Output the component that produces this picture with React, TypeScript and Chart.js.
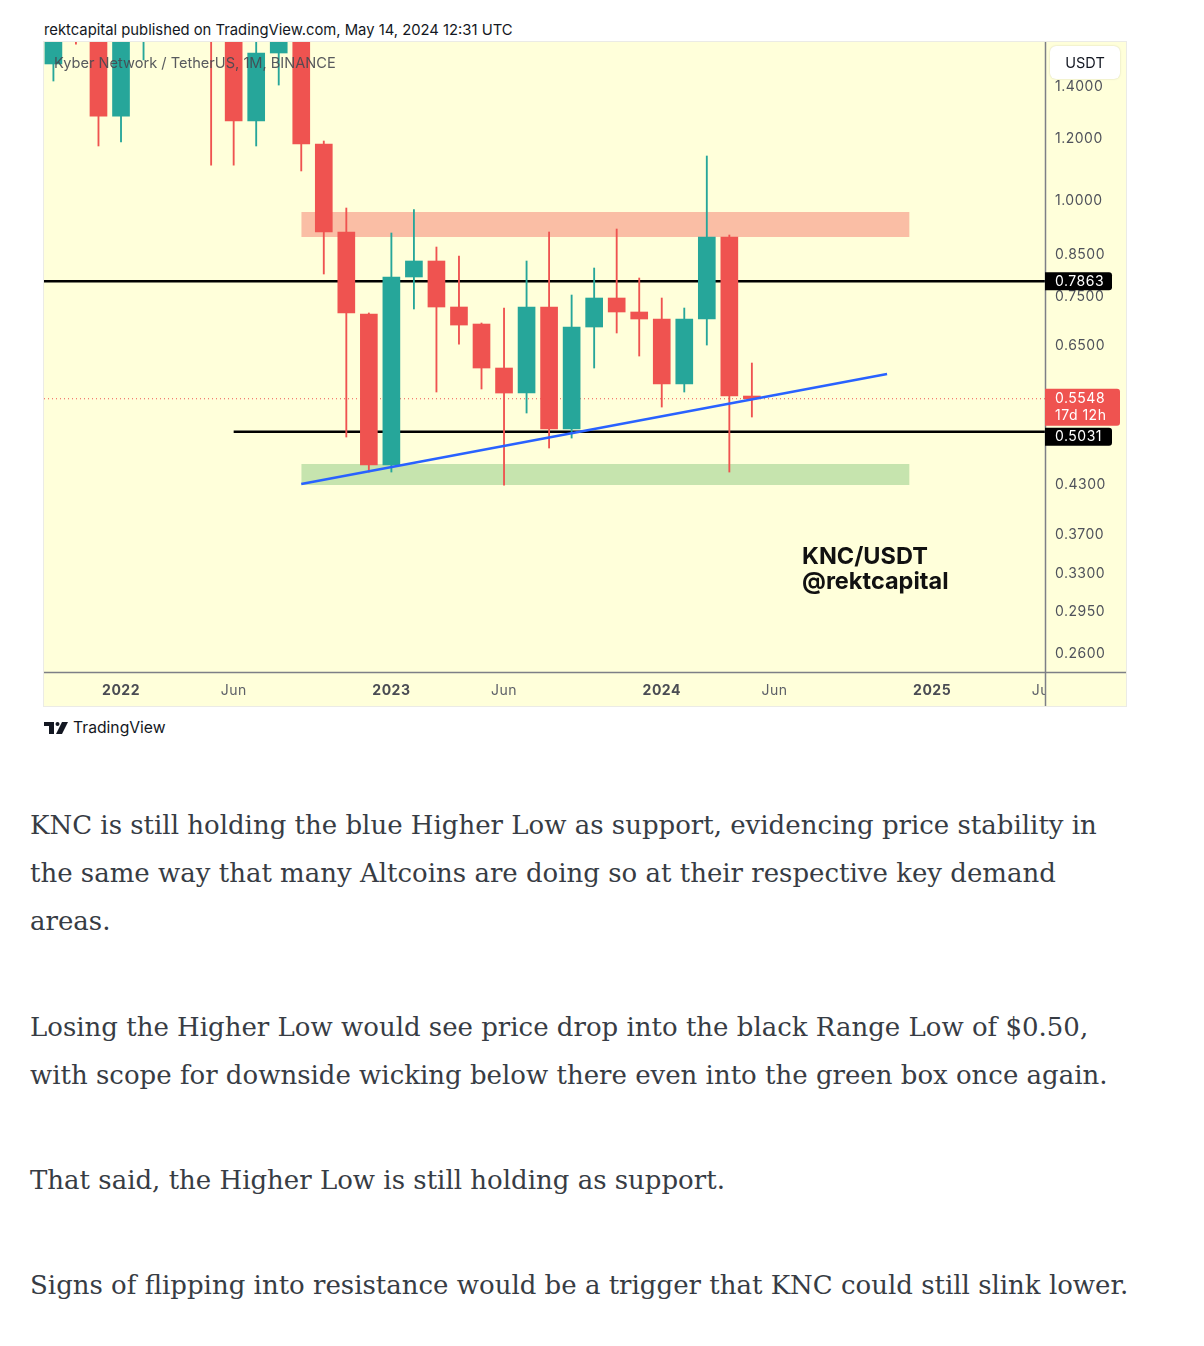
import React, { useEffect, useRef } from "react";
import { Chart, registerables } from "chart.js";

Chart.register(...registerables);

// ---- DATA ----
// month index: 0 = Jan 2022 (monthly candles, KNC/USDT, Binance)
const months = [-3, -2, -1, 0, 1, 2, 3, 4, 5, 6, 7, 8, 9, 10, 11, 12, 13, 14, 15, 16, 17, 18, 19, 20, 21, 22, 23, 24, 25, 26, 27, 28];
const opens = [1.499, 1.72, 1.66, 1.284, 1.8, 2.3, 3.4, 3.1, 1.7, 1.2655, 1.5486, 1.64, 1.182, 0.9102, 0.7135, 0.4557, 0.7964, 0.8351, 0.7285, 0.6926, 0.6078, 0.5643, 0.7285, 0.5071, 0.6865, 0.7482, 0.7178, 0.703, 0.5796, 0.703, 0.8967, 0.5593];
const highs = [1.95, 2.05, 1.75, 1.95, 2.55, 3.6, 5.7, 3.3, 1.85, 1.65, 1.78, 1.7, 1.1925, 0.9774, 0.7157, 0.9075, 0.9728, 0.8705, 0.8476, 0.6947, 0.7263, 0.8351, 0.9102, 0.7549, 0.8179, 0.9183, 0.794, 0.7482, 0.7263, 1.1406, 0.9021, 0.6169];
const lows = [1.425, 1.59, 1.175, 1.189, 1.517, 1.9, 2.9, 1.11, 1.11, 1.175, 1.408, 1.091, 0.8035, 0.4952, 0.4463, 0.4463, 0.7242, 0.566, 0.6526, 0.5711, 0.4294, 0.5318, 0.4793, 0.4937, 0.6078, 0.6744, 0.6298, 0.5413, 0.566, 0.6507, 0.4463, 0.5255];
const closes = [1.72, 1.66, 1.284, 1.8, 2.3, 3.4, 3.1, 1.7, 1.2655, 1.5486, 1.64, 1.182, 0.9102, 0.7157, 0.4557, 0.7964, 0.8351, 0.7285, 0.6905, 0.6078, 0.5643, 0.7285, 0.5071, 0.6865, 0.7482, 0.7178, 0.703, 0.5796, 0.703, 0.8967, 0.5593, 0.5548];

const priceTicks = [0.26, 0.295, 0.33, 0.37, 0.43, 0.65, 0.75, 0.85, 1.0, 1.2, 1.4];
const timeTicks = [0, 5, 12, 17, 24, 29, 36, 41];
const timeLabels = ["2022", "Jun", "2023", "Jun", "2024", "Jun", "2025", "Jun"];
const yearLabels = ["2022", "2023", "2024", "2025"];

const rangeHighLevel = 0.7863;
const rangeLowLevel = 0.5031;
const rangeLowStart = 5;
const lastPrice = 0.5548;
const countdown = "17d 12h";
const trendX = [8, 34];
const trendY = [0.4307, 0.5971];
const boxX = [8, 35];
const resistanceBox = [0.8967, 0.9659];
const supportBox = [0.4294, 0.457];

const paragraphs = [
  [
    "KNC is still holding the blue Higher Low as support, evidencing price stability in",
    "the same way that many Altcoins are doing so at their respective key demand",
    "areas.",
  ],
  [
    "Losing the Higher Low would see price drop into the black Range Low of $0.50,",
    "with scope for downside wicking below there even into the green box once again.",
  ],
  ["That said, the Higher Low is still holding as support."],
  ["Signs of flipping into resistance would be a trigger that KNC could still slink lower."],
];

// ---- STYLE / LAYOUT ----
const X_MIN = -3.418;
const X_MAX = 41.01;
const Y_MIN = 0.2465;
const Y_MAX = 1.6;
const BG = "#FFFFDA";
const UP = "#26A69A";
const DOWN = "#EF5350";
const AXIS_TEXT = "#4f525b";
const CW = 1082;
const CH = 664;

const candleColors = months.map((_, i) => (closes[i] >= opens[i] ? UP : DOWN));

function hline(value: number, x0: number, x1: number) {
  return [
    { x: x0, y: value },
    { x: x1, y: value },
  ];
}

const panelPlugin = {
  id: "tvPanel",
  beforeDraw(chart: any) {
    (chart.ctx as any).letterSpacing = "0.5px";
  },
  beforeDatasetsDraw(chart: any) {
    const { ctx, chartArea, width, height } = chart;
    ctx.save();
    ctx.fillStyle = BG;
    ctx.fillRect(chartArea.right, 0, width - chartArea.right, height);
    ctx.restore();
  },
  afterDraw(chart: any) {
    const { ctx, chartArea, width, height } = chart;
    const ys = chart.scales.y;
    ctx.save();
    ctx.strokeStyle = "#7d7f86";
    ctx.lineWidth = 1.5;
    ctx.beginPath();
    ctx.moveTo(0, chartArea.bottom + 0.5);
    ctx.lineTo(width, chartArea.bottom + 0.5);
    ctx.moveTo(chartArea.right + 0.5, 0);
    ctx.lineTo(chartArea.right + 0.5, height);
    ctx.stroke();

    const r = chartArea.right;
    ctx.font = "14px Inter";
    (ctx as any).letterSpacing = "0.5px";
    ctx.textBaseline = "middle";
    ctx.textAlign = "left";
    const box = (y: number, h: number, w: number, color: string) => {
      ctx.fillStyle = color;
      ctx.beginPath();
      ctx.roundRect(r, y, w, h, [0, 3, 3, 0]);
      ctx.fill();
    };
    // range high label
    const yh = ys.getPixelForValue(rangeHighLevel);
    box(yh - 9, 18, 67, "#000000");
    ctx.fillStyle = "#ffffff";
    ctx.fillText(rangeHighLevel.toFixed(4), r + 10, yh + 0.5);
    // last price label
    const yp = ys.getPixelForValue(lastPrice);
    box(yp - 10, 37, 75, DOWN);
    ctx.fillStyle = "#ffffff";
    ctx.fillText(lastPrice.toFixed(4), r + 10, yp);
    ctx.fillText(countdown, r + 10, yp + 17);
    // range low label
    const yl = ys.getPixelForValue(rangeLowLevel) + 5;
    box(yl - 9, 18, 67, "#000000");
    ctx.fillStyle = "#ffffff";
    ctx.fillText(rangeLowLevel.toFixed(4), r + 10, yl + 0.5);
    ctx.restore();
  },
};

export default function App() {
  const ref = useRef<HTMLCanvasElement>(null);

  useEffect(() => {
    if (!ref.current) return;
    const chart = new Chart(ref.current, {
      type: "bar",
      data: {
        datasets: [
          {
            type: "bar",
            label: "bodies",
            data: months.map((m, i) => ({ x: m, y: [opens[i], closes[i]] })) as any,
            backgroundColor: candleColors,
            barThickness: 17,
            grouped: false,
            order: 1,
          },
          {
            type: "bar",
            label: "wicks",
            data: months.map((m, i) => ({ x: m, y: [lows[i], highs[i]] })) as any,
            backgroundColor: candleColors,
            barThickness: 1.2,
            grouped: false,
            order: 2,
          },
          {
            type: "line",
            label: "trend",
            data: trendX.map((x, i) => ({ x, y: trendY[i] })),
            borderColor: "#2962FF",
            borderWidth: 2.5,
            pointRadius: 0,
            order: 0,
          },
          {
            type: "line",
            label: "rangeHigh",
            data: hline(rangeHighLevel, X_MIN, X_MAX),
            borderColor: "#000000",
            borderWidth: 2.5,
            pointRadius: 0,
            order: 5,
          },
          {
            type: "line",
            label: "rangeLow",
            data: hline(rangeLowLevel, rangeLowStart, X_MAX),
            borderColor: "#000000",
            borderWidth: 2.5,
            pointRadius: 0,
            order: 5,
          },
          {
            type: "line",
            label: "lastPrice",
            data: hline(lastPrice, X_MIN, X_MAX),
            borderColor: DOWN,
            borderWidth: 1,
            borderDash: [1, 3],
            pointRadius: 0,
            order: 6,
          },
          {
            type: "line",
            label: "resTop",
            data: hline(resistanceBox[1], boxX[0], boxX[1]),
            borderWidth: 0,
            borderColor: "rgba(0,0,0,0)",
            backgroundColor: "#FABEA5",
            fill: "+1",
            pointRadius: 0,
            order: 8,
          },
          {
            type: "line",
            label: "resBottom",
            data: hline(resistanceBox[0], boxX[0], boxX[1]),
            borderWidth: 0,
            borderColor: "rgba(0,0,0,0)",
            pointRadius: 0,
            fill: false,
            order: 8,
          },
          {
            type: "line",
            label: "supTop",
            data: hline(supportBox[1], boxX[0], boxX[1]),
            borderWidth: 0,
            borderColor: "rgba(0,0,0,0)",
            backgroundColor: "#C6E4AE",
            fill: "+1",
            pointRadius: 0,
            order: 8,
          },
          {
            type: "line",
            label: "supBottom",
            data: hline(supportBox[0], boxX[0], boxX[1]),
            borderWidth: 0,
            borderColor: "rgba(0,0,0,0)",
            pointRadius: 0,
            fill: false,
            order: 8,
          },
        ],
      },
      options: {
        responsive: false,
        devicePixelRatio: 1,
        animation: false,
        layout: { padding: 0 },
        plugins: {
          legend: { display: false },
          tooltip: { enabled: false },
        },
        events: [],
        scales: {
          x: {
            type: "linear",
            min: X_MIN,
            max: X_MAX,
            offset: false,
            afterBuildTicks: (s: any) => {
              s.ticks = timeTicks.map((v) => ({ value: v }));
            },
            afterFit: (s: any) => {
              s.height = 34;
              s.paddingLeft = 0;
              s.paddingRight = 0;
              s.paddingTop = 0;
              s.paddingBottom = 0;
            },
            grid: { display: false, drawTicks: false },
            border: { display: false },
            ticks: {
              autoSkip: false,
              maxRotation: 0,
              padding: 10,
              callback: (_v: any, i: number) => timeLabels[i],
              font: (c: any) => ({
                family: "Inter",
                size: 14,
                weight: yearLabels.includes(timeLabels[c.index]) ? "bold" : "normal",
              }),
              color: (c: any) => (yearLabels.includes(timeLabels[c.index]) ? "#4a4c53" : "#5d6068"),
            },
          },
          y: {
            type: "logarithmic",
            position: "right",
            min: Y_MIN,
            max: Y_MAX,
            afterBuildTicks: (s: any) => {
              s.ticks = priceTicks.map((v) => ({ value: v }));
            },
            afterFit: (s: any) => {
              s.width = 81;
              s.paddingLeft = 0;
              s.paddingRight = 0;
              s.paddingTop = 0;
              s.paddingBottom = 0;
            },
            grid: { display: false, drawTicks: false },
            border: { display: false },
            ticks: {
              z: 1,
              autoSkip: false,
              padding: 10,
              color: AXIS_TEXT,
              font: { family: "Inter", size: 14 },
              callback: (v: any) => Number(v).toFixed(4),
            },
          },
        },
      } as any,
      plugins: [panelPlugin],
    });
    return () => chart.destroy();
  }, []);

  return (
    <div
      style={{
        position: "absolute",
        left: 0,
        top: 0,
        width: 1204,
        height: 1346,
        background: "#ffffff",
        fontFamily: "Inter, 'Noto Sans', sans-serif",
      }}
    >
      <div style={{ position: "absolute", left: 44, top: 21, fontSize: 14.8, lineHeight: "18px", color: "#131722", whiteSpace: "nowrap" }}>
        rektcapital published on TradingView.com, May 14, 2024 12:31 UTC
      </div>

      <div
        style={{
          position: "absolute",
          left: 44,
          top: 42,
          width: CW,
          height: CH,
          background: BG,
          boxShadow: "0 0 0 1px #ebebe6",
        }}
      >
        <canvas ref={ref} width={CW} height={CH} style={{ display: "block", width: CW, height: CH }} />
        <div
          style={{
            position: "absolute",
            left: 10,
            top: 12,
            fontSize: 14.6,
            lineHeight: "18px",
            color: "rgba(70,72,80,0.9)",
            whiteSpace: "nowrap",
          }}
        >
          Kyber Network / TetherUS, 1M, BINANCE
        </div>
        <div
          style={{
            position: "absolute",
            left: 1006,
            top: 4,
            width: 70,
            height: 33,
            background: "#ffffff",
            borderRadius: 6,
            boxShadow: "0 0 2px rgba(0,0,0,0.18)",
            fontSize: 14.5,
            lineHeight: "33px",
            textAlign: "center",
            color: "#131722",
          }}
        >
          USDT
        </div>
        <div
          style={{
            position: "absolute",
            left: 758,
            top: 501,
            fontSize: 23.5,
            fontWeight: 700,
            lineHeight: "25px",
            color: "#111111",
            whiteSpace: "nowrap",
          }}
        >
          <div>KNC/USDT</div>
          <div>@rektcapital</div>
        </div>
      </div>

      <div style={{ position: "absolute", left: 44, top: 719, height: 18, display: "flex", alignItems: "center" }}>
        <svg width="25" height="13" viewBox="0 0 25 13" style={{ display: "block" }}>
          <rect x="0" y="0" width="10" height="4" fill="#131722" />
          <rect x="5" y="0" width="5" height="12" fill="#131722" />
          <circle cx="13.5" cy="2" r="2" fill="#131722" />
          <polygon points="18,0 24,0 18,12 12,12" fill="#131722" />
        </svg>
        <span style={{ marginLeft: 4, fontSize: 15.7, color: "#131722", lineHeight: "18px" }}>TradingView</span>
      </div>

      {paragraphs.map((lines, pi) => (
        <div
          key={pi}
          style={{
            position: "absolute",
            left: 30,
            top: [801, 1003, 1156, 1261][pi],
            fontFamily: "'DejaVu Serif', serif",
            fontSize: 26,
            lineHeight: "48px",
            color: "#373c44",
          }}
        >
          {lines.map((l, li) => (
            <div key={li} style={{ whiteSpace: "nowrap" }}>
              {l}
            </div>
          ))}
        </div>
      ))}
    </div>
  );
}
